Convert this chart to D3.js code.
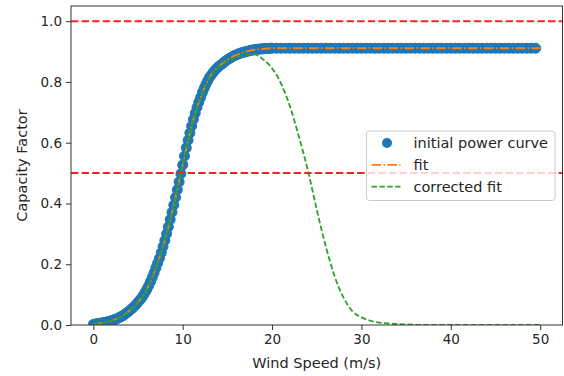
<!DOCTYPE html>
<html>
<head>
<meta charset="utf-8">
<script src="https://cdn.jsdelivr.net/npm/d3@7"></script>
<style>
  body { margin: 0; background: #fff; }
  text { font-family: "DejaVu Sans", sans-serif; }
</style>
</head>
<body>
<svg id="chart" width="564" height="376"></svg>
<script>
// measured power curve (wind speed in m/s, capacity factor)
const powerSpeed = [
  0,0.2,0.4,0.6,0.8,1,1.2,1.4,1.6,1.8,2,2.2,2.4,2.6,2.8,3,3.2,3.4,3.6,3.8,
  4,4.2,4.4,4.6,4.8,5,5.2,5.4,5.6,5.8,6,6.2,6.4,6.6,6.8,7,7.2,7.4,7.6,7.8,
  8,8.2,8.4,8.6,8.8,9,9.2,9.4,9.6,9.8,10,10.2,10.4,10.6,10.8,11,11.2,11.4,11.6,11.8,
  12,12.2,12.4,12.6,12.8,13,13.2,13.4,13.6,13.8,14,14.2,14.4,14.6,14.8,15,15.2,15.4,15.6,15.8,
  16,16.2,16.4,16.6,16.8,17,17.2,17.4,17.6,17.8,18,18.2,18.4,18.6,18.8,19,19.2,19.4,19.6,19.8,
  20,20.5,21,21.5,22,22.5,23,23.5,24,24.5,25,25.5,26,26.5,27,27.5,28,28.5,29,29.5,
  30,30.5,31,31.5,32,32.5,33,33.5,34,34.5,35,35.5,36,36.5,37,37.5,38,38.5,39,39.5,
  40,40.5,41,41.5,42,42.5,43,43.5,44,44.5,45,45.5,46,46.5,47,47.5,48,48.5,49,49.5,50
];
const powerCF = [
  0.002,0.003,0.004,0.005,0.006,0.007,0.008,0.009,0.011,0.012,
  0.014,0.016,0.018,0.020,0.023,0.026,0.029,0.032,0.037,0.041,
  0.046,0.051,0.056,0.062,0.068,0.075,0.082,0.089,0.098,0.108,
  0.118,0.130,0.143,0.157,0.172,0.188,0.204,0.220,0.238,0.258,
  0.278,0.300,0.323,0.347,0.371,0.395,0.420,0.445,0.471,0.498,
  0.527,0.556,0.583,0.608,0.632,0.655,0.677,0.697,0.716,0.733,
  0.749,0.765,0.779,0.792,0.804,0.815,0.823,0.831,0.838,0.844,
  0.850,0.855,0.859,0.864,0.869,0.873,0.877,0.880,0.884,0.887,
  0.889,0.892,0.894,0.896,0.898,0.899,0.901,0.902,0.904,0.905,
  0.906,0.907,0.908,0.908,0.909,0.909,0.910,0.910,0.910,0.911,
  0.911,0.911,0.911,0.911,0.911,0.911,0.911,0.911,0.911,0.911,0.911,
  0.911,0.911,0.911,0.911,0.911,0.911,0.911,0.911,0.911,0.911,
  0.911,0.911,0.911,0.911,0.911,0.911,0.911,0.911,0.911,0.911,
  0.911,0.911,0.911,0.911,0.911,0.911,0.911,0.911,0.911,0.911,
  0.911,0.911,0.911,0.911,0.911,0.911,0.911,0.911,0.911,0.911,
  0.911,0.911,0.911,0.911,0.911,0.911,0.911,0.911,0.911
];

// fitted curves, sampled at whole m/s
const fitSpeed = [
  0,1,2,3,4,5,6,7,8,9,10,11,12,13,14,15,16,17,18,19,20,21,22,23,24,25,
  26,27,28,29,30,31,32,33,34,35,36,37,38,39,40,41,42,43,44,45,46,47,48,49,50
];
const fitCF = [
  0.002,0.007,0.014,0.026,0.046,0.075,0.118,0.188,0.278,0.395,0.527,0.655,0.749,
  0.815,0.850,0.873,0.889,0.899,0.906,0.909,0.911,0.911,0.911,0.911,0.911,0.911,
  0.911,0.911,0.911,0.911,0.911,0.911,0.911,0.911,0.911,0.911,0.911,0.911,0.911,
  0.911,0.911,0.911,0.911,0.911,0.911,0.911,0.911,0.911,0.911,0.911,0.911
];
const correctedCF = [
  0.002,0.007,0.014,0.026,0.046,0.075,0.118,0.188,0.278,0.395,0.527,0.655,0.749,
  0.815,0.849,0.868,0.881,0.889,0.891,0.874,0.845,0.795,0.720,0.620,0.510,0.380,
  0.260,0.160,0.090,0.045,0.025,0.014,0.008,0.005,0.003,0.002,0.001,0,0,
  0,0,0,0,0,0,0,0,0,0,0,0
];

const refLines = [1.0, 0.5];
const xTicks = [0, 10, 20, 30, 40, 50];
const yTicks = [0, 0.2, 0.4, 0.6, 0.8, 1.0];
const legendLabels = ['initial power curve', 'fit', 'corrected fit'];

const W = 564, H = 376;
const plot = { left: 71, right: 562.5, top: 6, bottom: 325 };
const tickFont = 13.5, labelFont = 14.5;

const svg = d3.select('#chart');
svg.append('rect').attr('width', W).attr('height', H).attr('fill', '#fff');

const x = d3.scaleLinear().domain([-2.5, 52.5]).range([plot.left, plot.right]);
const y = d3.scaleLinear().domain([0, 1.05]).range([plot.bottom, plot.top]);

svg.append('clipPath').attr('id', 'clip')
  .append('rect')
  .attr('x', plot.left).attr('y', plot.top)
  .attr('width', plot.right - plot.left).attr('height', plot.bottom - plot.top);

const area = svg.append('g').attr('clip-path', 'url(#clip)');

// scatter of the initial curve
area.append('g').selectAll('circle')
  .data(powerSpeed.map((s, i) => [s, powerCF[i]]))
  .enter().append('circle')
  .attr('cx', d => x(d[0]))
  .attr('cy', d => y(d[1]))
  .attr('r', 5)
  .attr('fill', '#1f77b4')
  .attr('stroke', '#1f77b4')
  .attr('stroke-width', 1);

const line = d3.line()
  .x(d => x(d[0]))
  .y(d => y(d[1]))
  .curve(d3.curveMonotoneX);

area.append('path')
  .attr('d', line(fitSpeed.map((s, i) => [s, fitCF[i]])))
  .attr('fill', 'none')
  .attr('stroke', '#ff7f0e')
  .attr('stroke-width', 1.8)
  .attr('stroke-dasharray', '9.6,2.4,1.5,2.4');

area.append('path')
  .attr('d', line(fitSpeed.map((s, i) => [s, correctedCF[i]])))
  .attr('fill', 'none')
  .attr('stroke', '#2ca02c')
  .attr('stroke-width', 1.8)
  .attr('stroke-dasharray', '5.5,2.4');

// reference levels
area.selectAll('.ref')
  .data(refLines)
  .enter().append('line')
  .attr('class', 'ref')
  .attr('x1', plot.left).attr('x2', plot.right)
  .attr('y1', d => y(d)).attr('y2', d => y(d))
  .attr('stroke', '#ff2020')
  .attr('stroke-width', 2)
  .attr('stroke-dasharray', '7.4,3.2');

// axes
const xAxis = svg.append('g')
  .attr('transform', `translate(0,${plot.bottom})`)
  .call(d3.axisBottom(x).tickValues(xTicks).tickSize(5).tickSizeOuter(0).tickPadding(4));
const yAxis = svg.append('g')
  .attr('transform', `translate(${plot.left},0)`)
  .call(d3.axisLeft(y).tickValues(yTicks).tickFormat(d3.format('.1f')).tickSize(5).tickSizeOuter(0).tickPadding(4));

[xAxis, yAxis].forEach(a => {
  a.select('.domain').remove();
  a.selectAll('line').attr('stroke', '#333');
  a.selectAll('text').attr('font-size', tickFont).attr('fill', '#262626')
    .style('font-family', '"DejaVu Sans", sans-serif');
});

svg.append('rect')
  .attr('x', plot.left).attr('y', plot.top)
  .attr('width', plot.right - plot.left).attr('height', plot.bottom - plot.top)
  .attr('fill', 'none').attr('stroke', '#333').attr('stroke-width', 1);

svg.append('text')
  .attr('x', (plot.left + plot.right) / 2).attr('y', 368)
  .attr('text-anchor', 'middle').attr('font-size', labelFont).attr('fill', '#262626')
  .text('Wind Speed (m/s)');

svg.append('text')
  .attr('transform', `translate(27,${(plot.top + plot.bottom) / 2}) rotate(-90)`)
  .attr('text-anchor', 'middle').attr('font-size', labelFont).attr('fill', '#262626')
  .text('Capacity Factor');

// legend
const legend = svg.append('g').attr('transform', 'translate(366.5,131)');
legend.append('rect')
  .attr('width', 188.5).attr('height', 69.5).attr('rx', 3)
  .attr('fill', '#fff').attr('fill-opacity', 0.8)
  .attr('stroke', '#ccc').attr('stroke-width', 1);

const rows = legend.selectAll('.row')
  .data(legendLabels)
  .enter().append('g')
  .attr('transform', (d, i) => `translate(0,${12 + i * 21.8})`);

rows.append('text')
  .attr('x', 47).attr('dy', '0.35em')
  .attr('font-size', labelFont).attr('fill', '#262626')
  .text(d => d);

rows.filter((d, i) => i === 0).append('circle')
  .attr('cx', 20.5).attr('cy', 0).attr('r', 5).attr('fill', '#1f77b4');
rows.filter((d, i) => i === 1).append('line')
  .attr('x1', 5).attr('x2', 34).attr('stroke', '#ff7f0e').attr('stroke-width', 1.8)
  .attr('stroke-dasharray', '9.6,2.4,1.5,2.4');
rows.filter((d, i) => i === 2).append('line')
  .attr('x1', 5).attr('x2', 34).attr('stroke', '#2ca02c').attr('stroke-width', 1.8)
  .attr('stroke-dasharray', '5.5,2.4');
</script>
</body>
</html>
